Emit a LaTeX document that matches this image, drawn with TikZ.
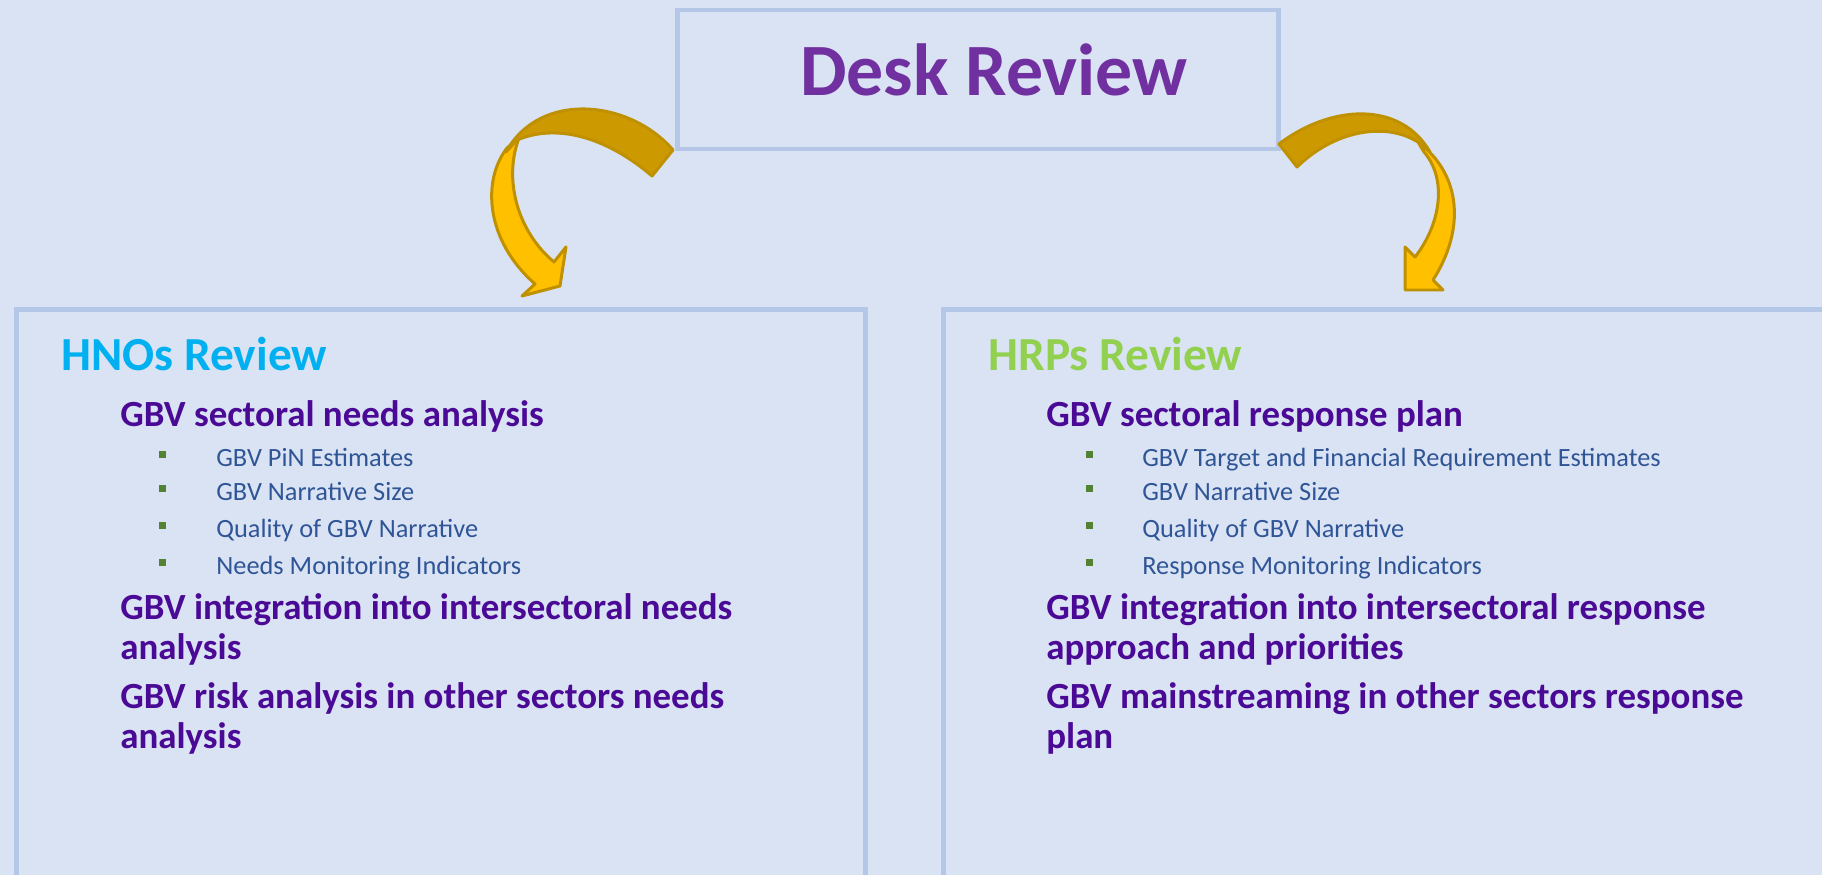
\documentclass[tikz,border=0pt]{standalone}
\usepackage{fontspec}
\setmainfont{Carlito}
\usepackage{tikz}

\definecolor{bgblue}{RGB}{218,227,243}
\definecolor{frameblue}{RGB}{180,199,231}
\definecolor{deskpurple}{RGB}{112,48,160}
\definecolor{hnocyan}{RGB}{0,176,240}
\definecolor{hrpgreen}{RGB}{146,208,80}
\definecolor{topicpurple}{RGB}{75,10,150}
\definecolor{subblue}{RGB}{47,85,151}
\definecolor{bulgreen}{RGB}{84,130,53}
\definecolor{arrowgold}{RGB}{204,153,0}
\definecolor{arrowyellow}{RGB}{255,192,0}
\definecolor{arrowline}{RGB}{191,144,0}

\begin{document}
\begin{tikzpicture}[x=0.02cm,y=-0.02cm,
 panel/.style={draw=frameblue,line width=2.8pt,inner sep=0pt},
 desktitle/.style={font=\fontsize{42}{50}\selectfont\bfseries,text=deskpurple,inner sep=0pt,anchor=base},
 head/.style={font=\fontsize{27}{32}\selectfont\bfseries,inner sep=0pt,anchor=base west},
 topic/.style={font=\fontsize{21}{22.5}\selectfont\bfseries,text=topicpurple,align=left,inner sep=0pt,anchor=base west},
 sub/.style={font=\fontsize{15}{18}\selectfont,text=subblue,inner sep=0pt,anchor=base west},
 bul/.style={fill=bulgreen,minimum size=0.14cm,inner sep=0pt},
 band/.style={draw=arrowline,line width=1.7pt,line join=round}]
 \useasboundingbox (0,0) rectangle (1822,875);
 \fill[bgblue] (0,0) rectangle (1822,875);

 \node[panel,minimum width=12.04cm,minimum height=2.78cm] (desk) at (978,79.5) {};
 \node[panel,minimum width=17cm,minimum height=11.82cm] (hnobox) at (441,604.5) {};
 \node[panel,minimum width=17.94cm,minimum height=11.82cm] (hrpbox) at (1391.5,604.5) {};

 \node[desktitle] (deskt) at (994,95) {Desk Review};

 % left arrow
 \draw[band,fill=arrowyellow] (507,148) .. controls (482,180) and (485,240) .. (535,284) -- (522,296) -- (560,286) -- (566,247) -- (554,262) .. controls (518,232) and (503,180) .. (519,138) -- cycle;
 \draw[band,fill=arrowgold] (673,150) .. controls (630,100) and (540,90) .. (506,152) -- (517,140) .. controls (560,122) and (610,140) .. (652,176) -- cycle;

 % right arrow
 \draw[band,fill=arrowyellow] (1418,142) .. controls (1462,175) and (1465,230) .. (1433,280) -- (1443,290) -- (1405,290) -- (1405,247) -- (1415,257) .. controls (1440,225) and (1448,180) .. (1424,152) -- cycle;
 \draw[band,fill=arrowgold] (1279,144) .. controls (1330,105) and (1400,100) .. (1430,152) .. controls (1400,120) and (1340,125) .. (1297,167) -- cycle;

 \node[head,text=hnocyan] (hnot) at (61,370) {HNOs Review};
 \node[topic] (hnoa) at (120,426) {GBV sectoral needs analysis};
 \node[bul] (hb1) at (162.5,454) {};
 \node[bul] (hb2) at (162.5,488) {};
 \node[bul] (hb3) at (162.5,525) {};
 \node[bul] (hb4) at (162.5,562) {};
 \node[sub] (hs1) at (216,466) {GBV PiN Estimates};
 \node[sub] (hs2) at (216,500) {GBV Narrative Size};
 \node[sub] (hs3) at (216,537) {Quality of GBV Narrative};
 \node[sub] (hs4) at (216,574) {Needs Monitoring Indicators};
 \node[topic] (hnob) at (120,659) {GBV integration into intersectoral needs\\analysis};
 \node[topic] (hnoc) at (120,748) {GBV risk analysis in other sectors needs\\analysis};

 \node[head,text=hrpgreen] (hrpt) at (988,370) {HRPs Review};
 \node[topic] (hrpa) at (1046,426) {GBV sectoral response plan};
 \node[bul] (rb1) at (1089,454) {};
 \node[bul] (rb2) at (1089,488) {};
 \node[bul] (rb3) at (1089,525) {};
 \node[bul] (rb4) at (1089,562) {};
 \node[sub] (rs1) at (1142,466) {GBV Target and Financial Requirement Estimates};
 \node[sub] (rs2) at (1142,500) {GBV Narrative Size};
 \node[sub] (rs3) at (1142,537) {Quality of GBV Narrative};
 \node[sub] (rs4) at (1142,574) {Response Monitoring Indicators};
 \node[topic] (hrpb) at (1046,659) {GBV integration into intersectoral response\\approach and priorities};
 \node[topic] (hrpc) at (1046,748) {GBV mainstreaming in other sectors response\\plan};
\end{tikzpicture}
\end{document}
